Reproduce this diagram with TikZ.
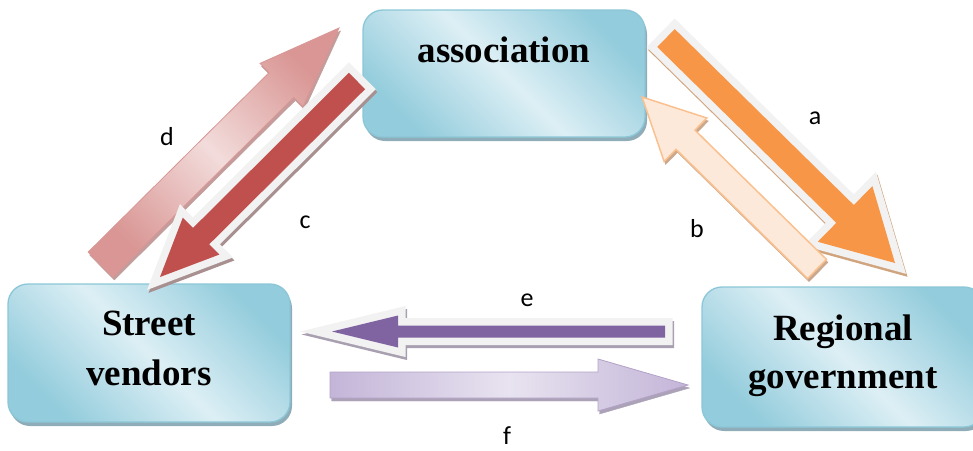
\documentclass[tikz,border=0pt]{standalone}
\usepackage{fontspec}
\setmainfont{Liberation Serif}
\newfontfamily\lblfont{Carlito}
\usetikzlibrary{calc,shadows}
\definecolor{boxline}{HTML}{8CC7D7}
\definecolor{boxdark}{HTML}{93CCDC}
\definecolor{boxlight}{HTML}{DDEFF5}
\definecolor{boxshadow}{HTML}{8FADB8}
\definecolor{outl}{HTML}{F2F2F2}
\definecolor{orA}{HTML}{F79646}
\definecolor{pchB}{HTML}{FDE9D9}
\definecolor{pchBline}{HTML}{FAC08F}
\definecolor{redC}{HTML}{C0504D}
\definecolor{pinkD}{HTML}{D99694}
\definecolor{pinkDl}{HTML}{F2DCDB}
\definecolor{purE}{HTML}{8064A2}
\definecolor{purF}{HTML}{C3B5D8}
\definecolor{purFl}{HTML}{E8E3F0}
\definecolor{purFline}{HTML}{B3A2C7}
\definecolor{shA}{HTML}{D0A47E}
\definecolor{shB}{HTML}{C9A88E}
\definecolor{shC}{HTML}{A99090}
\definecolor{shD}{HTML}{C39C9B}
\definecolor{shE}{HTML}{A8A0B0}
\definecolor{shF}{HTML}{ABA2B8}
\newcommand\barrow[6]{%
  \coordinate (bh) at ($(#3)!#6!(#2)$);
  \path[#1] ($(#2)!#4!90:(#3)$) -- ($(bh)!#4!-90:(#2)$) -- ($(bh)!#5!-90:(#2)$) -- (#3) -- ($(bh)!#5!90:(#2)$) -- ($(bh)!#4!90:(#2)$) -- ($(#2)!#4!-90:(#3)$) -- cycle;}
\tikzset{
  box/.style={rounded corners=20pt, draw=boxline, line width=1.3pt,
    top color=boxdark, bottom color=boxdark, middle color=boxlight, shading angle=-45,
    font=\bfseries\fontsize{37}{50}\selectfont, align=center, minimum width=282,
    inner sep=0pt, drop shadow={shadow xshift=2pt, shadow yshift=-4pt, fill=boxshadow, opacity=1}},
  shad/.style={fill=#1, draw=#1, transform canvas={xshift=1.5pt, yshift=-3pt}},
  wideline/.style={line width=15pt},
  lbl/.style={font=\lblfont\fontsize{26}{30}\selectfont, inner sep=0pt}
}
\begin{document}
\begin{tikzpicture}[x=1pt,y=-1pt]
\useasboundingbox (0,0) rectangle (973,450);
% boxes
\node[box, minimum height=127, text height=25pt, text depth=48pt] (assoc) at (504,73.5) {association};
\node[box, minimum height=138] (street) at (149,353) {Street\\vendors\rule[-10pt]{0pt}{10pt}};
\node[box, minimum height=140, font=\bfseries\fontsize{37}{48}\selectfont] (gov) at (843,357) {Regional\\government\rule[-11pt]{0pt}{11pt}};
% arrow end points
\coordinate (a1) at (666,38);   \coordinate (a2) at (895,263);
\coordinate (b1) at (817,269);  \coordinate (b2) at (642,97);
\coordinate (c1) at (357,81);   \coordinate (c2) at (160,277);
\coordinate (d1) at (100.5,264.5); \coordinate (d2) at (339,28);
\coordinate (e1) at (665,331.5); \coordinate (e2) at (332,331.5);
\coordinate (f1) at (330,385);  \coordinate (f2) at (688,385);
% d
\barrow{shad=shD}{d1}{d2}{17.5pt}{30.5pt}{81pt}
\barrow{draw=pinkD, line width=0.8pt, top color=pinkD, bottom color=pinkD, middle color=pinkDl, shading angle=-45}{d1}{d2}{17.5pt}{30.5pt}{81pt}
% c
\barrow{shad=shC, wideline}{c1}{c2}{11.5pt}{26pt}{58pt}
\barrow{preaction={draw=outl, wideline}, fill=redC}{c1}{c2}{11.5pt}{26pt}{58pt}
% a
\barrow{shad=shA, wideline}{a1}{a2}{12.5pt}{39pt}{70pt}
\barrow{preaction={draw=outl, wideline}, fill=orA}{a1}{a2}{12.5pt}{39pt}{70pt}
% b
\barrow{shad=shB}{b1}{b2}{13.5pt}{30.5pt}{61pt}
\barrow{draw=pchBline, line width=1.5pt, fill=pchB}{b1}{b2}{13.5pt}{30.5pt}{61pt}
% e
\barrow{shad=shE, wideline}{e1}{e2}{6pt}{16pt}{66pt}
\barrow{preaction={draw=outl, wideline}, fill=purE}{e1}{e2}{6pt}{16pt}{66pt}
% f
\barrow{shad=shF}{f1}{f2}{13pt}{26pt}{90pt}
\barrow{draw=purFline, line width=0.8pt, left color=purF, right color=purF, middle color=purFl}{f1}{f2}{13pt}{26pt}{90pt}
% labels
\node[lbl] (la) at (815,118) {a};
\node[lbl] (lb) at (697,229) {b};
\node[lbl] (lc) at (305,222) {c};
\node[lbl] (ld) at (167,137) {d};
\node[lbl] (le) at (527,300) {e};
\node[lbl] (lf) at (507,436) {f};
\end{tikzpicture}
\end{document}
